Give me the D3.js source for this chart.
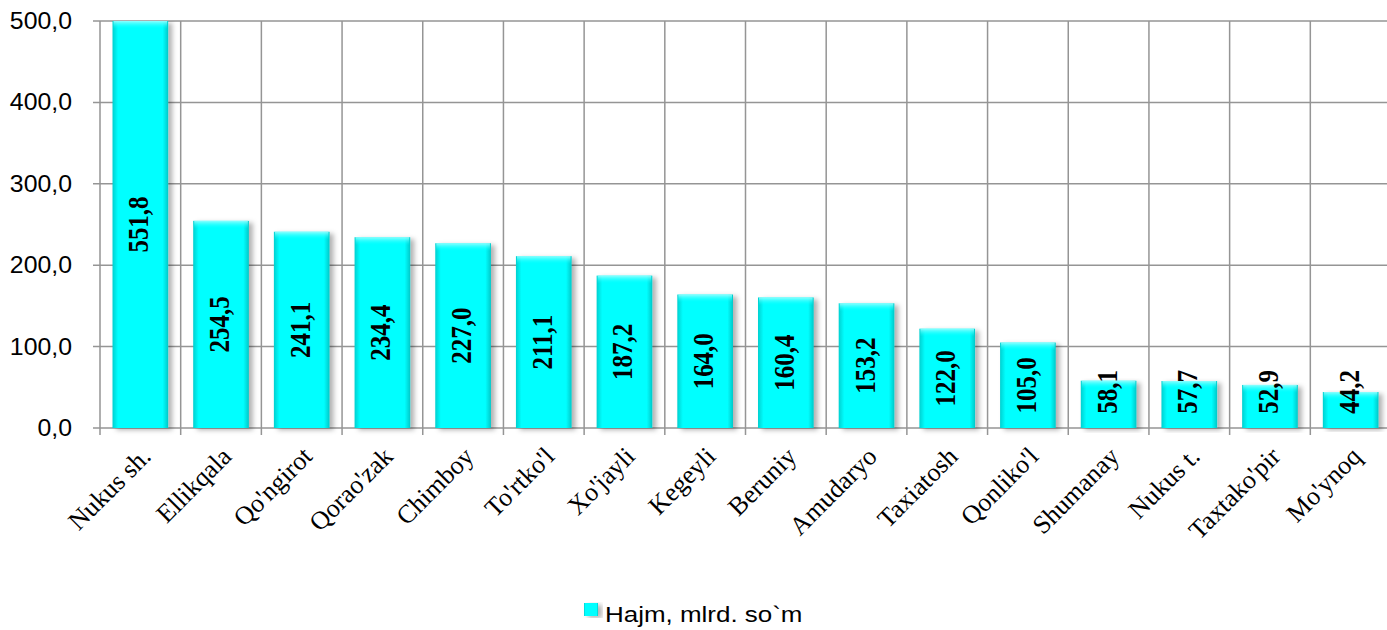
<!DOCTYPE html>
<html>
<head>
<meta charset="utf-8">
<script src="https://cdn.jsdelivr.net/npm/d3@7"></script>
<style>
  body { margin: 0; background: #fff; }
  svg { display: block; }
</style>
</head>
<body>
<div id="chart"></div>
<script>
const svgWidth = 1387;
const svgHeight = 630;

// data
const districts = ["Nukus sh.", "Ellikqala", "Qo'ngirot", "Qorao'zak", "Chimboy", "To'rtko'l",
  "Xo'jayli", "Kegeyli", "Beruniy", "Amudaryo", "Taxiatosh", "Qonliko'l",
  "Shumanay", "Nukus t.", "Taxtako'pir", "Mo'ynoq"];
const volumes = [551.8, 254.5, 241.1, 234.4, 227.0, 211.1, 187.2, 164.0, 160.4, 153.2,
  122.0, 105.0, 58.1, 57.7, 52.9, 44.2];
const yTicks = [0, 100, 200, 300, 400, 500];
const seriesName = "Hajm, mlrd. so`m";

const plot = { left: 100, top: 21, right: 1391, bottom: 428 };
const stretch = 1.18; // original picture looks stretched sideways

const fmt = v => d3.format(".1f")(v).replace(".", ",");

const svg = d3.select("#chart")
  .append("svg")
  .attr("width", svgWidth)
  .attr("height", svgHeight);

const defs = svg.append("defs");

const grad = defs.append("linearGradient")
  .attr("id", "barGrad")
  .attr("x1", "0").attr("x2", "1").attr("y1", "0").attr("y2", "0");
grad.append("stop").attr("offset", "0").attr("stop-color", "#00d0d0");
grad.append("stop").attr("offset", "0.1").attr("stop-color", "#00ffff");
grad.append("stop").attr("offset", "0.9").attr("stop-color", "#00ffff");
grad.append("stop").attr("offset", "1").attr("stop-color", "#00c8c8");

const topGrad = defs.append("linearGradient")
  .attr("id", "topGrad")
  .attr("x1", "0").attr("x2", "0").attr("y1", "0").attr("y2", "1");
topGrad.append("stop").attr("offset", "0").attr("stop-color", "#9fffff").attr("stop-opacity", 0.9);
topGrad.append("stop").attr("offset", "1").attr("stop-color", "#00ffff").attr("stop-opacity", 0);

const shadow = defs.append("filter")
  .attr("id", "shadow")
  .attr("x", "-20%").attr("y", "-5%").attr("width", "150%").attr("height", "115%");
shadow.append("feDropShadow")
  .attr("dx", 4).attr("dy", 2)
  .attr("stdDeviation", 2.5)
  .attr("flood-color", "#000")
  .attr("flood-opacity", 0.3);

defs.append("clipPath").attr("id", "plotClip")
  .append("rect")
  .attr("x", plot.left).attr("y", plot.top)
  .attr("width", plot.right - plot.left).attr("height", plot.bottom - plot.top + 10);

// scales
const x = d3.scaleBand()
  .domain(districts)
  .range([plot.left, plot.right])
  .paddingInner(0.31)
  .paddingOuter(0.155);

const y = d3.scaleLinear()
  .domain([0, 500])
  .range([plot.bottom, plot.top])
  .clamp(true);

const gridColor = "#959595";

// horizontal grid
svg.append("g")
  .selectAll("line")
  .data(yTicks)
  .enter()
  .append("line")
  .attr("x1", plot.left - 7)
  .attr("x2", plot.right)
  .attr("y1", d => y(d))
  .attr("y2", d => y(d))
  .attr("stroke", gridColor)
  .attr("stroke-width", 1.5);

// vertical grid at category boundaries
const bounds = d3.range(districts.length + 1).map(i => plot.left + i * x.step());
svg.append("g")
  .selectAll("line")
  .data(bounds)
  .enter()
  .append("line")
  .attr("x1", d => d)
  .attr("x2", d => d)
  .attr("y1", plot.top)
  .attr("y2", plot.bottom + 7)
  .attr("stroke", gridColor)
  .attr("stroke-width", 1.5);

// y tick labels
svg.append("g")
  .selectAll("text")
  .data(yTicks)
  .enter()
  .append("text")
  .attr("transform", d => `translate(72, ${y(d) + 8}) scale(1.08, 1)`)
  .attr("text-anchor", "end")
  .style("font-family", "'Liberation Sans', Arial, sans-serif")
  .style("font-size", "23px")
  .attr("fill", "#000")
  .text(d => fmt(d));

// bars
const barsGroup = svg.append("g").attr("clip-path", "url(#plotClip)");

barsGroup.selectAll("rect.bar")
  .data(volumes)
  .enter()
  .append("rect")
  .classed("bar", true)
  .attr("x", (d, i) => x(districts[i]))
  .attr("y", d => y(d))
  .attr("width", x.bandwidth())
  .attr("height", d => y(0) - y(d))
  .attr("fill", "url(#barGrad)")
  .attr("filter", "url(#shadow)");

barsGroup.selectAll("rect.bevel")
  .data(volumes)
  .enter()
  .append("rect")
  .classed("bevel", true)
  .attr("x", (d, i) => x(districts[i]) + 1)
  .attr("y", d => y(d))
  .attr("width", x.bandwidth() - 2)
  .attr("height", 8)
  .attr("fill", "url(#topGrad)");

// value labels
svg.append("g")
  .selectAll("text")
  .data(volumes)
  .enter()
  .append("text")
  .attr("transform", (d, i) => {
    const cx = x(districts[i]) + x.bandwidth() / 2 + 8;
    const cy = Math.min((y(d) + y(0)) / 2, y(0) - 36);
    return `translate(${cx}, ${cy}) scale(${stretch}, 1) rotate(-90)`;
  })
  .attr("text-anchor", "middle")
  .style("font-family", "'Liberation Serif', 'Times New Roman', serif")
  .style("font-weight", "bold")
  .style("font-size", "25px")
  .attr("fill", "#000")
  .text(d => fmt(d));

// category labels
svg.append("g")
  .selectAll("text")
  .data(districts)
  .enter()
  .append("text")
  .attr("transform", d => `translate(${x(d) + x.bandwidth() / 2 + 12}, 458) rotate(-45)`)
  .attr("text-anchor", "end")
  .style("font-family", "'Liberation Serif', 'Times New Roman', serif")
  .style("font-size", "26px")
  .attr("fill", "#000")
  .text(d => d);

// legend
const legend = svg.append("g");
legend.append("rect")
  .attr("x", 584)
  .attr("y", 603)
  .attr("width", 14)
  .attr("height", 13)
  .attr("fill", "url(#barGrad)")
  .attr("filter", "url(#shadow)");
legend.append("text")
  .attr("transform", `translate(605, 622) scale(${stretch}, 1)`)
  .style("font-family", "'Liberation Sans', Arial, sans-serif")
  .style("font-size", "22px")
  .attr("fill", "#000")
  .text(seriesName);
</script>
</body>
</html>
